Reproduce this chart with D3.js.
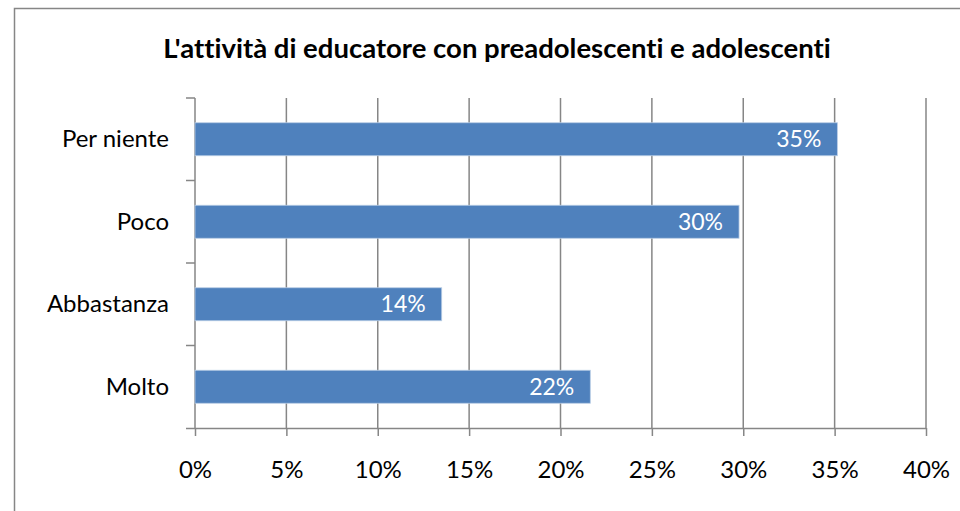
<!DOCTYPE html>
<html>
<head>
<meta charset="utf-8">
<script src="https://cdn.jsdelivr.net/npm/d3@7"></script>
<style>
  body { margin: 0; background: #fff; }
  svg text { font-family: Lato, "Open Sans", sans-serif; font-variant-ligatures: none; }
</style>
</head>
<body>
<div class="chart_area"></div>
<script>
var categories = ["Per niente", "Poco", "Abbastanza", "Molto"];
var values = [35.15, 29.77, 13.5, 21.63];
var valueLabels = ["35%", "30%", "14%", "22%"];
var tickValues = [0, 5, 10, 15, 20, 25, 30, 35, 40];
var title = "L'attività di educatore con preadolescenti e adolescenti";

var margin = {top: 98, right: 34, bottom: 83, left: 195},
    width = 960 - margin.left - margin.right,
    height = 511 - margin.top - margin.bottom;

var svg = d3.select(".chart_area")
  .append("svg")
  .attr("width", 960)
  .attr("height", 511);

// chart frame
svg.append("rect")
  .attr("x", 14.5)
  .attr("y", 8.5)
  .attr("width", 980)
  .attr("height", 540)
  .style("fill", "none")
  .style("stroke", "#868686")
  .style("stroke-width", 1.5);

svg.append("text")
  .attr("x", 497)
  .attr("y", 58)
  .attr("text-anchor", "middle")
  .style("font-size", "27.5px")
  .style("font-weight", "bold")
  .text(title);

var g = svg.append("g")
  .attr("transform", "translate(" + margin.left + "," + margin.top + ")");

var x = d3.scaleLinear()
    .domain([0, 40])
    .range([0, width]);

var y = d3.scaleBand()
    .domain(categories)
    .range([0, height])
    .paddingInner(0.6)
    .paddingOuter(0.3);

// vertical gridlines
g.selectAll(".grid")
  .data(tickValues.slice(1))
  .enter()
  .append("line")
    .attr("x1", function(d) { return x(d); })
    .attr("x2", function(d) { return x(d); })
    .attr("y1", 0)
    .attr("y2", height)
    .style("stroke", "#868686")
    .style("stroke-width", 1.5);

// x axis
var xAxis = g.append("g")
  .attr("transform", "translate(0," + height + ")")
  .call(d3.axisBottom(x).tickValues(tickValues).tickSize(8)
    .tickFormat(function(d) { return d + "%"; }));
xAxis.select(".domain").style("stroke", "#868686").style("stroke-width", 1.5)
  .attr("d", "M-9,0.5H" + width);
xAxis.selectAll(".tick line").style("stroke", "#868686").style("stroke-width", 1.5);
xAxis.selectAll("text")
  .attr("y", 50)
  .attr("dy", null)
  .style("font-size", "24px")
  .style("fill", "#000");

// y axis: ticks at band boundaries
var yAxis = g.append("g");
yAxis.append("line")
  .attr("x1", 0).attr("x2", 0)
  .attr("y1", 0).attr("y2", height)
  .style("stroke", "#868686")
  .style("stroke-width", 1.5);
var step = height / categories.length;
yAxis.selectAll(".ytick")
  .data(d3.range(categories.length))
  .enter()
  .append("line")
    .attr("x1", -9).attr("x2", 0)
    .attr("y1", function(d) { return d * step; })
    .attr("y2", function(d) { return d * step; })
    .style("stroke", "#868686")
    .style("stroke-width", 1.5);

yAxis.selectAll(".ylabel")
  .data(categories)
  .enter()
  .append("text")
    .attr("x", -26)
    .attr("y", function(d) { return y(d) + y.bandwidth() / 2; })
    .attr("dy", "0.34em")
    .attr("text-anchor", "end")
    .style("font-size", "24px")
    .text(function(d) { return d; });

// bars
g.selectAll(".bar")
  .data(values)
  .enter()
  .append("rect")
    .attr("x", 0)
    .attr("y", function(d, i) { return y(categories[i]); })
    .attr("width", function(d) { return x(d); })
    .attr("height", y.bandwidth())
    .style("fill", "#4f81bd")
    .style("stroke", "#b9cde5")
    .style("stroke-width", 0.8);

g.selectAll(".vlabel")
  .data(values)
  .enter()
  .append("text")
    .attr("x", function(d) { return x(d) - 16; })
    .attr("y", function(d, i) { return y(categories[i]) + y.bandwidth() / 2; })
    .attr("dy", "0.34em")
    .attr("text-anchor", "end")
    .style("font-size", "23px")
    .style("fill", "#fff")
    .text(function(d, i) { return valueLabels[i]; });
</script>
</body>
</html>
